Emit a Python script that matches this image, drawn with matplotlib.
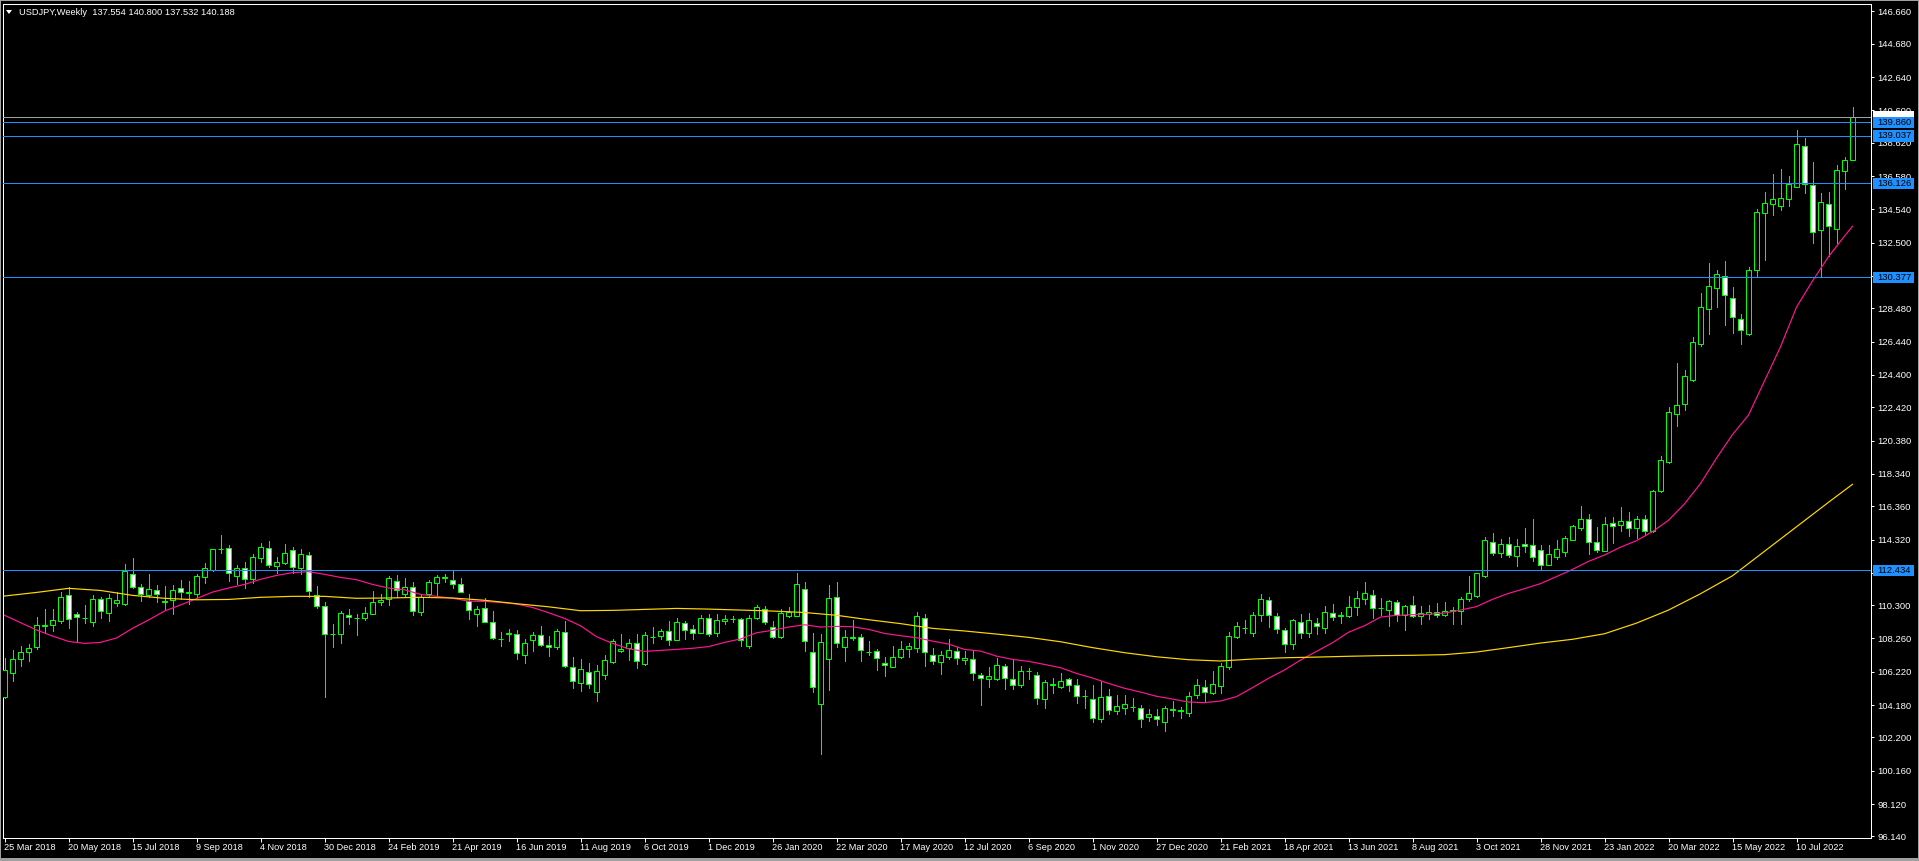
import matplotlib
matplotlib.use('Agg')
import matplotlib.pyplot as plt
from matplotlib.patches import Rectangle, Polygon
from matplotlib.transforms import blended_transform_factory, ScaledTranslation
import numpy as np

plt.rcParams['font.family'] = ['Liberation Sans', 'DejaVu Sans']

# weekly USDJPY candles, 25 Mar 2018 .. 28 Aug 2022
opens = [
    104.65, 106.17, 106.98, 107.45, 107.76, 109.05, 109.10, 109.33,
    110.90, 109.76, 109.50, 109.29, 110.65, 109.84, 110.45, 110.39,
    112.21, 111.39, 110.94, 111.21, 110.47, 110.60, 111.33, 111.06,
    111.00, 112.04, 112.45, 113.71, 113.78, 112.10, 112.55, 111.88,
    113.16, 113.78, 112.72, 112.90, 113.65, 112.60, 113.35, 110.94,
    110.25, 108.56, 108.51, 109.68, 109.51, 109.53, 109.74, 110.47,
    110.65, 111.78, 111.00, 111.43, 109.90, 111.00, 111.68, 112.00,
    111.86, 111.57, 110.53, 109.78, 110.10, 109.25, 108.24, 108.55,
    108.51, 107.25, 108.17, 108.45, 107.86, 107.72, 108.63, 106.53,
    105.55, 106.23, 105.00, 106.04, 106.84, 107.47, 107.68, 107.96,
    106.67, 108.36, 108.43, 108.70, 108.19, 109.19, 108.82, 108.61,
    109.49, 108.61, 109.31, 109.44, 109.43, 107.82, 109.51, 110.06,
    108.94, 108.37, 109.65, 109.65, 111.27, 107.41, 104.23, 107.02,
    110.78, 107.72, 108.32, 108.37, 107.46, 107.51, 106.78, 106.53,
    107.10, 107.59, 107.70, 109.53, 107.27, 106.82, 107.10, 107.47,
    106.92, 107.02, 106.04, 105.76, 105.80, 106.55, 105.76, 105.43,
    106.25, 106.04, 104.55, 105.45, 105.27, 105.76, 105.39, 104.72,
    104.53, 103.35, 104.72, 103.80, 104.02, 104.09, 103.98, 103.47,
    103.49, 103.12, 103.93, 103.85, 103.72, 104.78, 105.31, 104.90,
    105.37, 106.49, 108.33, 108.93, 108.62, 109.72, 110.60, 109.66,
    108.76, 107.90, 109.29, 108.57, 109.23, 108.88, 109.80, 109.64,
    109.62, 110.19, 110.70, 110.94, 110.12, 110.00, 110.47, 109.70,
    110.31, 109.64, 109.74, 109.86, 109.68, 109.92, 109.92, 110.66,
    110.84, 112.11, 114.19, 113.51, 114.02, 113.33, 114.02, 113.96,
    113.66, 112.78, 113.27, 113.57, 114.31, 115.04, 115.55, 114.15,
    113.62, 115.31, 115.20, 115.43, 115.00, 115.55, 114.83, 117.31,
    119.09, 121.99, 122.60, 124.10, 126.31, 128.46, 129.74, 130.47,
    129.13, 127.84, 126.92, 130.84, 134.29, 134.88, 134.76, 135.19,
    135.92, 138.39, 136.05, 133.25, 134.88, 133.31, 136.86, 137.554,
]
highs = [
    107.04, 107.55, 107.80, 107.92, 109.55, 110.06, 110.06, 111.08,
    111.41, 109.88, 110.31, 110.92, 110.78, 110.98, 111.12, 112.82,
    113.19, 111.59, 112.21, 111.51, 111.47, 111.51, 111.84, 111.76,
    112.19, 112.86, 113.76, 114.59, 113.96, 112.74, 112.92, 113.41,
    114.08, 114.21, 113.23, 114.02, 113.86, 113.74, 113.53, 111.47,
    110.47, 109.14, 109.94, 110.06, 109.76, 110.16, 111.14, 110.98,
    112.08, 112.14, 111.96, 111.74, 110.98, 111.84, 112.14, 112.21,
    112.37, 111.96, 110.98, 110.25, 110.72, 109.92, 108.63, 108.84,
    108.78, 108.23, 108.63, 109.02, 108.41, 108.82, 109.31, 107.10,
    107.00, 106.76, 106.63, 107.23, 108.25, 108.53, 108.23, 108.51,
    108.63, 108.96, 108.84, 109.31, 109.49, 109.31, 109.06, 109.67,
    109.76, 109.76, 109.67, 109.65, 109.49, 109.67, 110.31, 110.25,
    109.31, 110.06, 110.16, 112.25, 111.72, 108.57, 108.51, 111.53,
    111.72, 108.76, 109.39, 108.51, 108.08, 107.61, 107.10, 107.80,
    108.10, 107.98, 109.88, 109.76, 107.66, 107.49, 108.23, 107.76,
    107.47, 107.57, 106.14, 106.49, 107.04, 106.70, 106.92, 106.55,
    106.43, 106.18, 105.71, 105.84, 106.12, 105.82, 105.78, 105.10,
    105.39, 105.65, 105.16, 104.78, 104.78, 104.62, 104.19, 103.94,
    103.92, 104.12, 104.41, 104.08, 104.96, 105.78, 105.72, 106.27,
    106.74, 108.64, 109.25, 109.39, 109.88, 110.98, 110.78, 109.82,
    108.88, 109.43, 109.76, 109.80, 109.51, 110.25, 110.35, 109.88,
    110.84, 111.17, 111.70, 111.23, 110.74, 110.62, 110.62, 110.31,
    110.86, 110.25, 110.31, 110.43, 110.49, 110.19, 110.80, 112.06,
    112.27, 114.47, 114.72, 114.35, 114.47, 114.33, 115.02, 115.55,
    113.96, 113.96, 114.29, 114.53, 115.21, 116.37, 115.88, 115.09,
    115.70, 115.68, 116.34, 116.00, 115.76, 115.81, 117.35, 119.43,
    122.41, 125.11, 124.70, 126.70, 129.41, 131.25, 130.80, 131.35,
    129.76, 128.11, 130.98, 134.54, 135.60, 136.70, 137.00, 136.58,
    139.39, 138.90, 137.43, 135.52, 135.58, 137.23, 137.72, 140.800,
]
lows = [
    104.62, 105.68, 106.59, 106.90, 107.61, 108.57, 108.74, 109.23,
    108.92, 108.10, 109.19, 109.02, 109.53, 109.35, 110.27, 110.31,
    111.35, 110.55, 110.80, 110.49, 110.06, 109.78, 110.70, 110.37,
    110.82, 111.68, 112.42, 113.51, 111.80, 111.60, 111.37, 111.68,
    112.92, 112.64, 112.29, 112.82, 112.29, 112.23, 110.82, 110.12,
    104.70, 107.76, 108.00, 109.16, 108.49, 109.39, 109.74, 110.33,
    110.33, 110.82, 110.86, 109.70, 109.72, 110.78, 110.86, 111.74,
    111.37, 111.08, 109.45, 109.04, 109.27, 108.21, 107.82, 108.13,
    107.00, 106.74, 107.47, 107.80, 107.19, 107.59, 106.49, 105.25,
    105.06, 105.25, 104.45, 105.76, 106.78, 107.43, 106.94, 106.45,
    106.65, 108.00, 108.23, 107.86, 108.17, 108.23, 108.23, 108.58,
    108.43, 108.43, 109.12, 109.29, 107.82, 107.66, 109.47, 109.16,
    108.29, 108.29, 109.55, 109.63, 107.51, 104.98, 101.21, 105.13,
    107.76, 106.90, 108.17, 106.90, 107.25, 106.35, 105.98, 106.50,
    107.05, 107.10, 107.41, 106.59, 106.68, 106.06, 107.02, 106.68,
    106.70, 105.72, 104.21, 105.31, 105.70, 105.14, 105.18, 105.29,
    105.80, 104.27, 104.02, 104.94, 105.25, 105.06, 104.33, 104.02,
    103.17, 103.17, 103.66, 103.66, 103.66, 103.84, 102.86, 103.21,
    102.98, 102.61, 103.51, 103.37, 103.53, 104.63, 104.39, 104.88,
    104.94, 106.37, 108.27, 108.62, 108.41, 109.33, 108.98, 108.62,
    107.45, 107.64, 108.31, 108.37, 108.55, 108.57, 109.37, 109.19,
    109.58, 109.72, 110.39, 109.53, 109.68, 109.04, 109.35, 108.76,
    109.56, 109.13, 109.43, 109.60, 109.62, 109.13, 109.13, 110.56,
    110.80, 112.05, 113.35, 113.25, 113.27, 112.70, 113.55, 113.02,
    112.51, 112.75, 113.13, 113.33, 114.28, 114.90, 113.45, 113.57,
    113.60, 114.10, 114.83, 114.55, 114.41, 114.65, 114.80, 117.20,
    119.03, 121.29, 122.27, 124.00, 126.19, 126.92, 128.56, 127.45,
    126.97, 126.31, 126.86, 130.39, 131.45, 134.19, 134.50, 134.74,
    135.88, 135.56, 132.50, 130.37, 131.68, 132.50, 135.78, 137.532,
]
closes = [
    106.33, 106.98, 107.41, 107.65, 109.06, 109.07, 109.37, 110.78,
    109.43, 109.55, 109.52, 110.65, 109.96, 110.72, 110.59, 112.37,
    111.43, 111.00, 111.27, 110.96, 110.53, 111.25, 111.12, 111.08,
    112.06, 112.55, 113.72, 113.73, 112.25, 112.55, 111.88, 113.23,
    113.84, 112.76, 112.92, 113.47, 112.65, 113.41, 111.19, 110.27,
    108.51, 108.54, 109.80, 109.57, 109.50, 109.82, 110.47, 110.63,
    111.94, 111.21, 111.43, 109.92, 110.82, 111.70, 112.00, 111.98,
    111.57, 111.12, 109.98, 110.06, 109.29, 108.31, 108.22, 108.58,
    107.35, 107.98, 108.45, 107.86, 107.72, 108.70, 106.59, 105.68,
    106.37, 105.45, 106.27, 106.92, 108.08, 107.61, 107.96, 106.90,
    108.45, 108.34, 108.70, 108.19, 109.25, 108.80, 108.61, 109.49,
    108.55, 109.37, 109.43, 109.46, 108.14, 109.49, 110.16, 109.29,
    108.37, 109.80, 109.86, 111.57, 108.08, 105.31, 108.02, 110.72,
    107.96, 108.37, 108.30, 107.53, 107.44, 107.06, 106.62, 107.10,
    107.59, 107.78, 109.61, 107.41, 106.86, 107.25, 107.55, 107.06,
    107.04, 106.12, 105.84, 105.94, 106.61, 105.82, 105.39, 106.25,
    106.24, 104.59, 105.57, 105.41, 105.63, 105.39, 104.72, 104.71,
    103.37, 104.68, 103.86, 104.11, 104.23, 104.07, 103.31, 103.61,
    103.31, 103.98, 103.91, 103.83, 104.72, 105.39, 104.96, 105.45,
    106.55, 108.39, 109.04, 108.91, 109.68, 110.66, 109.68, 108.82,
    107.90, 109.37, 108.57, 109.37, 109.00, 109.86, 109.55, 109.67,
    110.21, 110.76, 111.02, 110.11, 110.10, 110.55, 109.70, 110.25,
    109.64, 109.82, 109.88, 109.72, 109.94, 110.00, 110.70, 111.07,
    112.25, 114.27, 113.51, 114.02, 113.39, 113.90, 113.92, 113.27,
    112.78, 113.41, 113.72, 114.39, 115.13, 115.55, 114.19, 113.70,
    115.27, 115.17, 115.43, 115.00, 115.55, 114.83, 117.31, 119.17,
    122.11, 122.54, 124.31, 126.39, 128.54, 129.82, 130.56, 129.27,
    127.92, 127.13, 130.80, 134.35, 134.90, 135.15, 135.21, 136.07,
    138.52, 136.07, 133.17, 134.96, 133.50, 136.92, 137.54, 140.188,
]

# moving averages (candle index, value)
pink_idx = list(range(0, 231, 2)) + [231]
pink_ma = [
    109.68, 109.23, 108.78, 108.41, 108.08, 107.96, 108.02, 108.29,
    108.88, 109.39, 109.94, 110.31, 110.70, 111.10, 111.35, 111.57,
    111.88, 112.12, 112.29, 112.35, 112.19, 112.00, 111.86, 111.57,
    111.35, 111.24, 110.96, 110.84, 110.72, 110.55, 110.53, 110.47,
    110.37, 110.16, 109.84, 109.49, 109.04, 108.37, 107.96, 107.63,
    107.47, 107.53, 107.59, 107.66, 107.76, 108.02, 108.23, 108.61,
    108.76, 108.96, 109.10, 108.96, 109.00, 108.98, 108.82, 108.57,
    108.43, 108.31, 108.10, 107.92, 107.59, 107.49, 107.18, 106.98,
    106.86, 106.67, 106.47, 106.12, 105.84, 105.51, 105.21, 104.98,
    104.72, 104.55, 104.37, 104.33, 104.43, 104.70, 105.25, 105.82,
    106.33, 106.94, 107.47, 108.00, 108.64, 109.04, 109.57, 109.68,
    109.72, 109.74, 109.82, 110.00, 110.21, 110.66, 111.02, 111.31,
    111.62, 112.05, 112.49, 112.98, 113.37, 113.85, 114.25, 114.80,
    115.50, 116.50, 117.75, 119.30, 120.75, 121.94, 124.03, 126.12,
    128.55, 130.15, 131.64, 132.90, 133.50,
]
gold_idx = list(range(0, 229, 4)) + [231]
gold_ma = [
    110.86, 111.08, 111.33, 111.20, 110.90, 110.72, 110.63, 110.65,
    110.78, 110.84, 110.84, 110.72, 110.74, 110.78, 110.74, 110.60,
    110.39, 110.20, 109.96, 109.98, 110.04, 110.10, 110.06, 110.00,
    109.94, 109.85, 109.68, 109.41, 109.17, 108.88, 108.72, 108.53,
    108.33, 108.06, 107.70, 107.39, 107.14, 106.96, 106.88, 107.00,
    107.08, 107.12, 107.17, 107.21, 107.23, 107.27, 107.43, 107.70,
    107.98, 108.21, 108.55, 109.20, 110.00, 111.00, 112.10, 113.60,
    115.10, 116.60, 117.70,
]

blue_levels = [139.860, 139.037, 136.126, 130.377, 112.434]
bid_price = 140.188
price_ticks = [146.66, 144.68, 142.64, 140.60, 138.62, 136.58, 134.54, 132.50,
               130.46, 128.48, 126.44, 124.40, 122.42, 120.38, 118.34, 116.36,
               114.32, 112.28, 110.30, 108.26, 106.22, 104.18, 102.20, 100.16,
               98.12, 96.14]
date_labels = ['25 Mar 2018', '20 May 2018', '15 Jul 2018', '9 Sep 2018', '4 Nov 2018',
               '30 Dec 2018', '24 Feb 2019', '21 Apr 2019', '16 Jun 2019', '11 Aug 2019',
               '6 Oct 2019', '1 Dec 2019', '26 Jan 2020', '22 Mar 2020', '17 May 2020',
               '12 Jul 2020', '6 Sep 2020', '1 Nov 2020', '27 Dec 2020', '21 Feb 2021',
               '18 Apr 2021', '13 Jun 2021', '8 Aug 2021', '3 Oct 2021', '28 Nov 2021',
               '23 Jan 2022', '20 Mar 2022', '15 May 2022', '10 Jul 2022']
title = 'USDJPY,Weekly  137.554 140.800 137.532 140.188'

W, H, DPI = 1919, 861, 100
PX = 72 / DPI  # one pixel in points
green = '#00ff00'
FS = 6.6    # dates
FS_T = 6.7  # header
FS_Y = 6.8  # price scale

o = np.array(opens)
h = np.array(highs)
l = np.array(lows)
c = np.array(closes)
x = np.arange(len(c))

fig = plt.figure(figsize=(W / DPI, H / DPI), dpi=DPI, facecolor='black')
left_px, right_px, top_px, bottom_px = 3, 1871, 4, 838
ax = fig.add_axes([left_px / W, 1 - bottom_px / H,
                   (right_px - left_px) / W, (bottom_px - top_px) / H])
ax.set_facecolor('black')
ax.set_xlim((left_px - 4.5) / 8, (right_px - 4.5) / 8)
ax.set_ylim(96.042, 147.113)

# candles
ax.vlines(x, l, h, color=green, linewidth=PX, zorder=2, antialiased=False)
face = np.where(c >= o, 'black', 'white')
ax.bar(x, c - o, bottom=o, width=0.56, color=face, edgecolor=green,
       linewidth=PX, zorder=3)

# moving averages
ax.plot(pink_idx, pink_ma, color='#ff1493', linewidth=1.2 * PX, zorder=4)
ax.plot(gold_idx, gold_ma, color='#ffd700', linewidth=1.2 * PX, zorder=4)

# horizontal levels
for lvl in blue_levels:
    ax.axhline(lvl, color='#1e90ff', linewidth=PX, zorder=5, antialiased=False)
ax.axhline(bid_price, color='#a0a0a0', linewidth=PX, zorder=5, antialiased=False)

for s in ax.spines.values():
    s.set_color('white')
    s.set_linewidth(PX)

# price scale on the right
ax.yaxis.tick_right()
ax.set_yticks(price_ticks)
ax.set_yticklabels(['%.3f' % t for t in price_ticks])
ax.tick_params(axis='y', colors='white', length=3 * PX, width=PX, pad=2.6,
               labelsize=FS_Y)

# date scale
ax.set_xticks(np.arange(0, len(c), 8)[:len(date_labels)])
ax.set_xticklabels(date_labels, ha='left')
ax.tick_params(axis='x', colors='white', length=4 * PX, width=PX, pad=1.0,
               labelsize=FS)
shift = ScaledTranslation(-1 / DPI, 0, fig.dpi_scale_trans)
for lbl in ax.get_xticklabels():
    lbl.set_transform(lbl.get_transform() + shift)

# price labels on the scale
tr = blended_transform_factory(fig.transFigure, ax.transData)
px_per_yen = (bottom_px - top_px) / (147.113 - 96.042)
box_h = 11.5 / px_per_yen


def price_box(price, fc, show_text=True):
    ax.add_patch(Rectangle((1873 / W, price - box_h / 2), 41 / W, box_h,
                           transform=tr, facecolor=fc, edgecolor='none',
                           clip_on=False, zorder=10))
    if show_text:
        ax.text(1877 / W, price, '%.3f' % price, transform=tr, color='black',
                fontsize=FS_Y, va='center', ha='left', clip_on=False, zorder=11)


# the bid label sits under the 139.860 one, only its top edge shows
price_box(bid_price, 'white', show_text=False)
for lvl in blue_levels:
    price_box(lvl, '#1e90ff')

# header
fig.patches.append(Polygon([(6 / W, 1 - 10 / H), (12 / W, 1 - 10 / H), (9 / W, 1 - 14 / H)],
                           closed=True, transform=fig.transFigure, facecolor='white',
                           edgecolor='none'))
fig.text(19 / W, 1 - 12.5 / H, title, color='white', fontsize=FS_T, va='center', ha='left')

# window frame
fig.patches.append(Rectangle((0, 0), 1, 1, transform=fig.transFigure, fill=False,
                             edgecolor='#a0a0a0', linewidth=2 * PX))
fig.patches.append(Rectangle((0, 0), 1, 3 / H, transform=fig.transFigure,
                             facecolor='#a0a0a0', edgecolor='none'))

fig.savefig('out.png', dpi=DPI, facecolor='black')
